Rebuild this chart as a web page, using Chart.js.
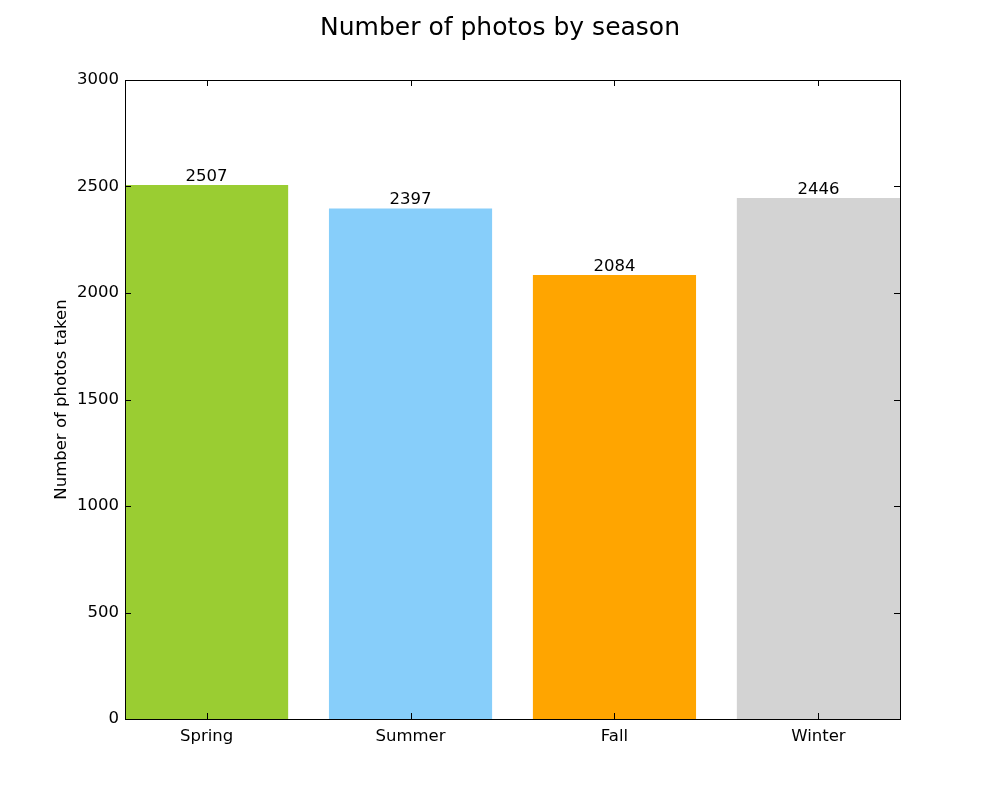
<!DOCTYPE html>
<html>
<head>
<meta charset="utf-8">
<script src="https://cdn.jsdelivr.net/npm/chart.js@4.4.1/dist/chart.umd.min.js"></script>
<style>
html,body{margin:0;padding:0;background:#fff;}
#wrap{width:1000px;height:800px;position:relative;}
</style>
</head>
<body>
<div id="wrap"><canvas id="c" width="1000" height="800"></canvas></div>
<script>
const categories = ["Spring", "Summer", "Fall", "Winter"];
const photoCounts = [2507, 2397, 2084, 2446];
const barColors = ["#9acd32", "#87cefa", "#ffa500", "#d3d3d3"];
const yTicks = [0, 500, 1000, 1500, 2000, 2500, 3000];
const chartTitle = "Number of photos by season";
const yAxisTitle = "Number of photos taken";

const FONT = "'DejaVu Sans', 'Liberation Sans', sans-serif";
const FS = 16.5;

const frameAndTicks = {
  id: 'frameAndTicks',
  afterDatasetsDraw(chart) {
    const {ctx, chartArea: a, scales: {x, y}} = chart;
    const L = 6;
    ctx.save();
    ctx.strokeStyle = '#000';
    ctx.lineWidth = 1;
    ctx.beginPath();
    x.ticks.forEach(t => {
      const px = Math.round(x.getPixelForValue(t.value)) + 0.5;
      ctx.moveTo(px, a.bottom); ctx.lineTo(px, a.bottom - L);
      ctx.moveTo(px, a.top); ctx.lineTo(px, a.top + L);
    });
    y.ticks.forEach(t => {
      const py = Math.round(y.getPixelForValue(t.value)) + 0.5;
      ctx.moveTo(a.left, py); ctx.lineTo(a.left + L, py);
      ctx.moveTo(a.right, py); ctx.lineTo(a.right - L, py);
    });
    ctx.stroke();
    ctx.strokeRect(Math.round(a.left) + 0.5, Math.round(a.top) + 0.5,
                   Math.round(a.right - a.left), Math.round(a.bottom - a.top));
    // value labels
    ctx.fillStyle = '#000';
    ctx.font = FS + 'px ' + FONT;
    ctx.textAlign = 'center';
    ctx.textBaseline = 'bottom';
    const meta = chart.getDatasetMeta(0);
    meta.data.forEach((bar, i) => {
      ctx.fillText(String(photoCounts[i]), bar.x, bar.y);
    });
    // title centred on the whole figure
    ctx.font = '25px ' + FONT;
    ctx.textBaseline = 'middle';
    ctx.fillText(chartTitle, chart.width / 2, 28);
    ctx.restore();
  }
};

new Chart(document.getElementById('c'), {
  type: 'bar',
  data: {
    datasets: [{
      data: categories.map((c, i) => ({x: i, y: photoCounts[i]})),
      backgroundColor: barColors,
      borderWidth: 0,
      barPercentage: 0.8,
      categoryPercentage: 1.0
    }]
  },
  options: {
    responsive: false,
    animation: false,
    devicePixelRatio: 1,
    layout: {padding: {left: 0, right: 100, top: 80, bottom: 0}},
    plugins: {
      legend: {display: false},
      tooltip: {enabled: false},
      title: {display: false}
    },
    scales: {
      x: {
        type: 'linear',
        min: -0.4,
        max: 3.4,
        offset: false,
        afterBuildTicks(scale) { scale.ticks = categories.map((c, i) => ({value: i})); },
        afterFit(scale) { scale.height = 81; },
        grid: {display: false, drawTicks: false},
        border: {display: false},
        ticks: {
          color: '#000',
          font: {family: FONT, size: FS},
          padding: 8,
          maxRotation: 0,
          autoSkip: false,
          callback: (v) => categories[v]
        }
      },
      y: {
        type: 'linear',
        min: 0,
        max: 3000,
        afterBuildTicks(scale) { scale.ticks = yTicks.map(v => ({value: v})); },
        afterFit(scale) { scale.width = 125; },
        grid: {display: false, drawTicks: false},
        border: {display: false},
        ticks: {
          color: '#000',
          font: {family: FONT, size: FS},
          padding: 6,
          callback: (v) => String(v)
        },
        title: {
          display: true,
          text: yAxisTitle,
          color: '#000',
          font: {family: FONT, size: FS},
          padding: {top: 52, bottom: 0}
        }
      }
    }
  },
  plugins: [frameAndTicks]
});
</script>
</body>
</html>
